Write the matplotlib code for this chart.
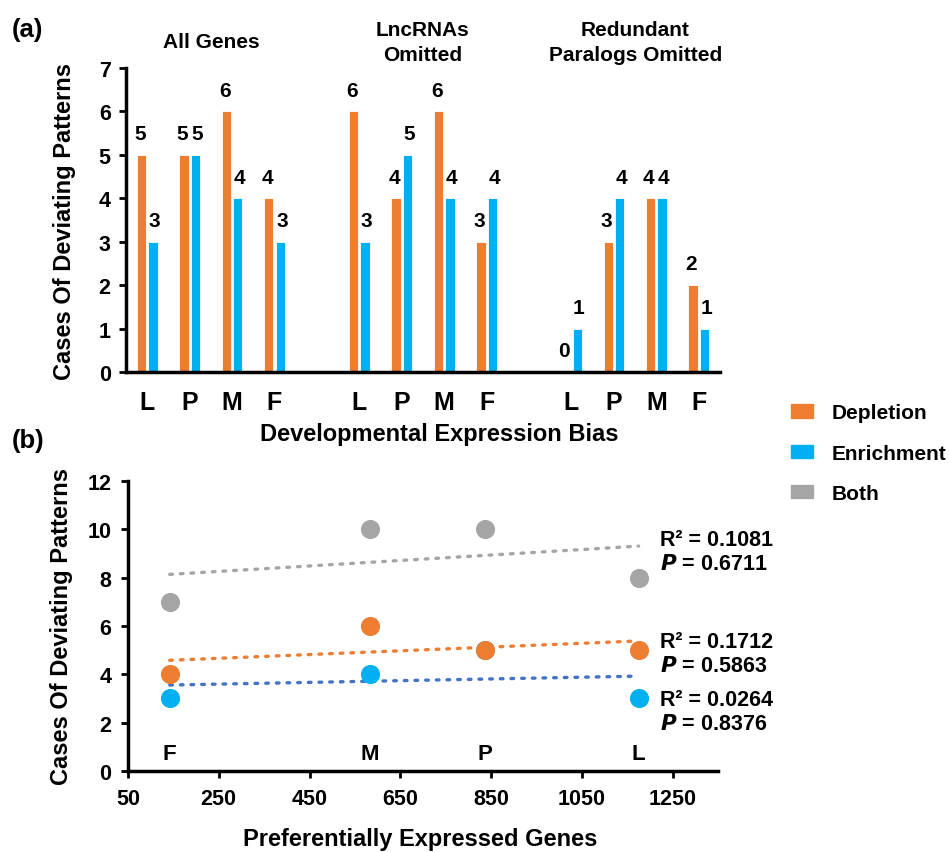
import matplotlib
matplotlib.use("Agg")
import matplotlib.pyplot as plt
from matplotlib.patches import Patch
import numpy as np

plt.rcParams['font.family'] = ['Liberation Sans', 'DejaVu Sans']
plt.rcParams['font.weight'] = 'bold'

# panel (a) data
groups = ['All Genes', 'LncRNAs\nOmitted', 'Redundant\nParalogs Omitted']
stages = ['L', 'P', 'M', 'F']
depletion = [[5, 5, 6, 4], [6, 4, 6, 3], [0, 3, 4, 2]]
enrichment = [[3, 5, 4, 3], [3, 5, 4, 4], [1, 4, 4, 1]]

# panel (b) data
pt_labels = ['F', 'M', 'P', 'L']
pref_genes = [142, 583, 836, 1175]
dep_b = [4, 6, 5, 5]
enr_b = [3, 4, 5, 3]
both_b = [7, 10, 10, 8]
stats = {'both': ('0.1081', '0.6711'), 'dep': ('0.1712', '0.5863'), 'enr': ('0.0264', '0.8376')}

ORANGE = '#ED7D31'
BLUE = '#00B0F0'
GRAY = '#A5A5A5'
TREND_BLUE = '#4472C4'

fig = plt.figure(figsize=(9.5, 8.53), dpi=100)

# ---------- panel (a) ----------
ax = fig.add_axes([0.1326, 0.5627, 0.6253, 0.3564])
w = 0.22
off = 0.135
xticks, xlabels = [], []
for g in range(len(groups)):
    base = g * 5
    pos = np.arange(len(stages)) + base
    ax.bar(pos - off, depletion[g], w, color=ORANGE, edgecolor='white', linewidth=0.6)
    ax.bar(pos + off, enrichment[g], w, color=BLUE, edgecolor='white', linewidth=0.6)
    for p, d, e in zip(pos, depletion[g], enrichment[g]):
        ax.text(p - off - 0.04, d + 0.27, str(d), ha='center', va='bottom', fontsize=15, fontweight='bold')
        ax.text(p + off + 0.04, e + 0.27, str(e), ha='center', va='bottom', fontsize=15, fontweight='bold')
    xticks += list(pos)
    xlabels += stages
    ax.text(pos.mean(), 7.6, groups[g], ha='center', va='center', fontsize=15,
            fontweight='bold', linespacing=1.4)

ax.set_xlim(-0.5, 13.5)
ax.set_ylim(0, 7)
ax.set_xticks(xticks)
ax.set_xticklabels(xlabels, fontsize=18, fontweight='bold')
ax.tick_params(axis='x', length=0, pad=13)
ax.set_yticks(range(0, 8))
ax.tick_params(axis='y', labelsize=15.5, width=2, length=5, pad=6)
for t in ax.get_yticklabels():
    t.set_fontweight('bold')
for s in ['top', 'right']:
    ax.spines[s].set_visible(False)
for s in ['left', 'bottom']:
    ax.spines[s].set_linewidth(2.5)
ax.set_ylabel('Cases Of Deviating Patterns', fontsize=17, fontweight='bold', labelpad=16)
ax.set_xlabel('Developmental Expression Bias', fontsize=17, fontweight='bold')
ax.xaxis.set_label_coords(0.528, -0.165)

fig.text(0.012, 0.965, '(a)', fontsize=18.5, fontweight='bold', va='center')
fig.text(0.012, 0.483, '(b)', fontsize=18.5, fontweight='bold', va='center')

# legend
handles = [Patch(color=ORANGE, label='Depletion'),
           Patch(color=BLUE, label='Enrichment'),
           Patch(color=GRAY, label='Both')]
fig.legend(handles=handles, loc='upper left', bbox_to_anchor=(0.8326, 0.526), frameon=False,
           borderpad=0, borderaxespad=0,
           prop={'size': 15, 'weight': 'bold'}, handlelength=1.06, handleheight=0.6,
           labelspacing=1.02, handletextpad=0.9)

# ---------- panel (b) ----------
bx = fig.add_axes([0.1347, 0.095, 0.6211, 0.3399])
xs = np.array(pref_genes)
for ys, col, tcol in [(both_b, GRAY, GRAY), (dep_b, ORANGE, ORANGE), (enr_b, BLUE, TREND_BLUE)]:
    k, b = np.polyfit(xs, ys, 1)
    xl = np.array([xs.min(), xs.max()])
    bx.plot(xl, k * xl + b, linestyle=(0, (0.8, 2.4)), color=tcol, linewidth=2.4,
            dash_capstyle='round', zorder=2)

bx.scatter(xs, both_b, s=190, color=GRAY, zorder=3, linewidths=0)
bx.scatter(xs, enr_b, s=190, color=BLUE, zorder=3, linewidths=0)
bx.scatter(xs, dep_b, s=190, color=ORANGE, zorder=4, linewidths=0)

for x, lab in zip(pref_genes, pt_labels):
    bx.text(x, 0.28, lab, ha='center', va='bottom', fontsize=16, fontweight='bold')

tx = 1222
for (r2, p), y in [(stats['both'], 9.6), (stats['dep'], 5.35), (stats['enr'], 2.95)]:
    bx.text(tx, y, f'R² = {r2}', fontsize=15.5, fontweight='bold', va='center')
    bx.text(tx, y - 1.0, '$\\bf{\\it{P}}$ = ' + p, fontsize=15.5, fontweight='bold', va='center')

bx.set_xlim(50, 1350)
bx.set_ylim(0, 12)
bx.set_xticks(range(50, 1351, 200))
bx.set_yticks(range(0, 13, 2))
bx.tick_params(axis='both', labelsize=15.5, width=2, length=5, pad=7)
for t in bx.get_xticklabels() + bx.get_yticklabels():
    t.set_fontweight('bold')
for s in ['top', 'right']:
    bx.spines[s].set_visible(False)
for s in ['left', 'bottom']:
    bx.spines[s].set_linewidth(2.5)
bx.set_ylabel('Cases Of Deviating Patterns', fontsize=17, fontweight='bold', labelpad=10)
bx.set_xlabel('Preferentially Expressed Genes', fontsize=17, fontweight='bold')
bx.xaxis.set_label_coords(0.495, -0.192)

fig.savefig('out.png', dpi=100)
